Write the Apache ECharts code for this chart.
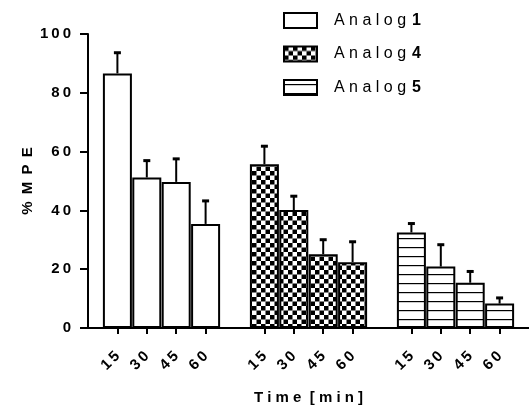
<!DOCTYPE html>
<html>
<head>
<meta charset="utf-8">
<script src="https://cdn.jsdelivr.net/npm/echarts@6/dist/echarts.min.js"></script>
<style>
html,body{margin:0;padding:0;background:#fff;}
#chart{width:529px;height:407px;}
</style>
</head>
<body>
<div id="chart"></div>
<script>
// ---- data ----
var times = ['15', '30', '45', '60'];
var seriesNames = ['Analog 1', 'Analog 4', 'Analog 5'];
var analog1 = [86.6, 51.2, 49.7, 35.4];
var analog1Err = [7.2, 5.9, 8.0, 8.0];
var analog4 = [55.7, 40.1, 25.1, 22.4];
var analog4Err = [6.3, 4.9, 5.1, 7.1];
var analog5 = [32.5, 20.9, 15.4, 8.3];
var analog5Err = [3.2, 7.6, 4.0, 2.1];
var yTicks = [0, 20, 40, 60, 80, 100];

// ---- build category axis with spacer slots ----
var groups = [analog1, analog4, analog5];
var errs = [analog1Err, analog4Err, analog5Err];
var categories = [''];
var groupStart = [];
groups.forEach(function (g, gi) {
  groupStart.push(categories.length);
  times.forEach(function (t) { categories.push(t); });
  categories.push('');
});

function seriesData(gi) {
  var arr = categories.map(function () { return '-'; });
  groups[gi].forEach(function (v, i) { arr[groupStart[gi] + i] = v; });
  return arr;
}
var errData = [];
groups.forEach(function (g, gi) {
  g.forEach(function (v, i) { errData.push([groupStart[gi] + i, v, errs[gi][i]]); });
});

// ---- patterns ----
function checker() {
  var c = document.createElement('canvas'); c.width = 9; c.height = 9;
  var x = c.getContext('2d');
  x.fillStyle = '#fff'; x.fillRect(0, 0, 9, 9);
  x.fillStyle = '#000'; x.fillRect(0, 0, 4.5, 4.5); x.fillRect(4.5, 4.5, 4.5, 4.5);
  return { image: c, repeat: 'repeat' };
}
function stripes() {
  var c = document.createElement('canvas'); c.width = 10; c.height = 9;
  var x = c.getContext('2d');
  x.fillStyle = '#fff'; x.fillRect(0, 0, 10, 9);
  x.fillStyle = '#000'; x.fillRect(0, 4, 10, 1.2);
  return { image: c, repeat: 'repeat' };
}
var fills = ['#ffffff', checker(), stripes()];

function spaced(s, sep) { return String(s).split('').join(sep); }
var FONT = '"Liberation Sans", Arial, sans-serif';

var chart = echarts.init(document.getElementById('chart'), null, { renderer: 'canvas' });
var series = seriesNames.map(function (n, gi) {
  return {
    name: n, type: 'bar', data: seriesData(gi),
    barWidth: 29, barGap: '-100%',
    itemStyle: { color: fills[gi], borderColor: '#000', borderWidth: 2 },
    emphasis: { disabled: true }, animation: false
  };
});
series.push({
  type: 'custom', data: errData, animation: false, z: 5,
  renderItem: function (params, api) {
    var x = api.value(0), m = api.value(1), e = api.value(2);
    var p1 = api.coord([x, m]);
    var p2 = api.coord([x, m + e]);
    return {
      type: 'group', children: [
        { type: 'line', shape: { x1: p1[0], y1: p1[1], x2: p2[0], y2: p2[1] + 1 },
          style: { stroke: '#000', lineWidth: 2 } },
        { type: 'rect', shape: { x: p2[0] - 3.5, y: p2[1] - 1, width: 7, height: 3 },
          style: { fill: '#000' } }
      ]
    };
  }
});

chart.setOption({
  animation: false,
  backgroundColor: '#fff',
  grid: { left: 88, right: 0, top: 34, bottom: 79, containLabel: false, outerBoundsMode: 'none' },
  legend: {
    data: seriesNames, orient: 'vertical', left: 283, top: 12, padding: 0,
    itemWidth: 33, itemHeight: 15, itemGap: 16.5, icon: 'rect',
    selectedMode: false,
    formatter: function (name) {
      var parts = name.split(' ');
      return '{a|' + spaced(parts[0], ' ') + '}{s|\u00a0}{b|' + parts[1] + '}';
    },
    textStyle: {
      rich: {
        a: { fontFamily: FONT, fontSize: 16, color: '#000', padding: [0, 0, 0, 12] },
        s: { fontFamily: FONT, fontSize: 16, width: 6 },
        b: { fontFamily: FONT, fontSize: 16, fontWeight: 'bold', color: '#000' }
      }
    }
  },
  xAxis: {
    type: 'category', data: categories, boundaryGap: false,
    name: spaced('Time', ' ') + '  ' + spaced('[min]', ' '),
    nameLocation: 'middle', nameGap: 62,
    nameTextStyle: { fontFamily: FONT, fontSize: 15, fontWeight: 'bold', color: '#000' },
    axisLine: { lineStyle: { color: '#000', width: 2 } },
    axisTick: { length: 6, lineStyle: { color: '#000', width: 2 },
      interval: function (i, v) { return v !== ''; } },
    axisLabel: { rotate: 45, margin: 26, fontFamily: FONT, fontSize: 15, fontWeight: 'bold', color: '#000',
      interval: function (i, v) { return v !== ''; },
      formatter: function (v) { return spaced(v, '\u2009'); } },
    splitLine: { show: false }
  },
  yAxis: {
    type: 'value', min: yTicks[0], max: yTicks[yTicks.length - 1], interval: yTicks[1] - yTicks[0],
    name: spaced('%MPE', ' \u2009'), nameLocation: 'middle', nameGap: 53, nameMoveOverlap: false,
    nameTextStyle: { fontFamily: FONT, fontSize: 15, fontWeight: 'bold', color: '#000' },
    axisLine: { show: true, lineStyle: { color: '#000', width: 2 } },
    axisTick: { show: true, length: 8, lineStyle: { color: '#000', width: 2 } },
    axisLabel: { margin: 17, fontFamily: FONT, fontSize: 15, fontWeight: 'bold', color: '#000',
      formatter: function (v) { return spaced(v, '\u2009'); } },
    splitLine: { show: false }
  },
  series: series
});
</script>
</body>
</html>
